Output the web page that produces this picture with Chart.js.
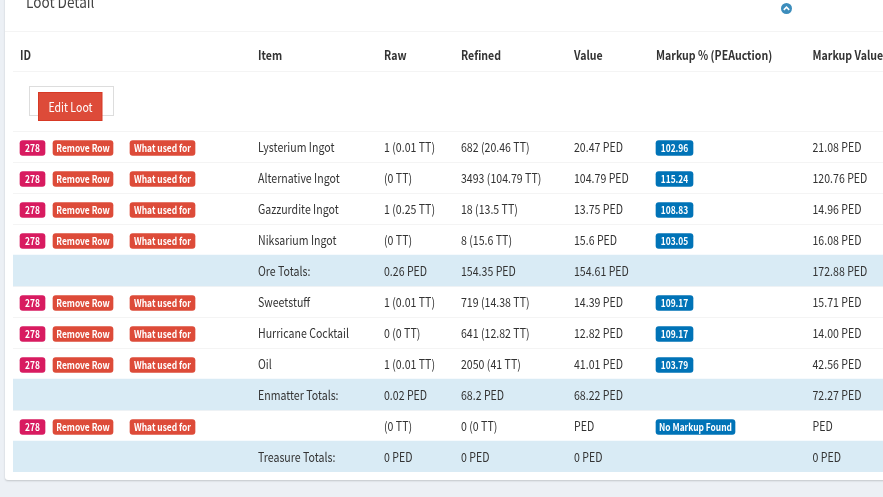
<!DOCTYPE html>
<html>
<head>
<meta charset="utf-8">
<title>Loot Detail</title>
<script src="https://cdn.jsdelivr.net/npm/chart.js@4"></script>
<style>
  html, body { margin: 0; padding: 0; background: #ecf0f5; overflow: hidden; }
  #wrap { width: 883px; height: 497px; position: relative; }
</style>
</head>
<body>
<div id="wrap"><canvas id="lootChart"></canvas></div>
<script>
// table contents, one list per column
const rowKeys = ['head', 'gap', 'edit', 'r1', 'r2', 'r3', 'r4', 'oreTotal', 'r5', 'r6', 'r7', 'enmatterTotal', 'r8', 'treasureTotal'];
const headers = ['ID', 'Item', 'Raw', 'Refined', 'Value', 'Markup % (PEAuction)', 'Markup Value'];
const ids = [null, null, null, '278', '278', '278', '278', null, '278', '278', '278', null, '278', null];
const items = ['', '', '', 'Lysterium Ingot', 'Alternative Ingot', 'Gazzurdite Ingot', 'Niksarium Ingot', 'Ore Totals:', 'Sweetstuff', 'Hurricane Cocktail', 'Oil', 'Enmatter Totals:', '', 'Treasure Totals:'];
const raw = ['', '', '', '1 (0.01 TT)', '(0 TT)', '1 (0.25 TT)', '(0 TT)', '0.26 PED', '1 (0.01 TT)', '0 (0 TT)', '1 (0.01 TT)', '0.02 PED', '(0 TT)', '0 PED'];
const refined = ['', '', '', '682 (20.46 TT)', '3493 (104.79 TT)', '18 (13.5 TT)', '8 (15.6 TT)', '154.35 PED', '719 (14.38 TT)', '641 (12.82 TT)', '2050 (41 TT)', '68.2 PED', '0 (0 TT)', '0 PED'];
const values = ['', '', '', '20.47 PED', '104.79 PED', '13.75 PED', '15.6 PED', '154.61 PED', '14.39 PED', '12.82 PED', '41.01 PED', '68.22 PED', 'PED', '0 PED'];
const markupPct = [null, null, null, '102.96', '115.24', '108.83', '103.05', null, '109.17', '109.17', '103.79', null, 'No Markup Found', null];
const markupValue = ['', '', '', '21.08 PED', '120.76 PED', '14.96 PED', '16.08 PED', '172.88 PED', '15.71 PED', '14.00 PED', '42.56 PED', '72.27 PED', 'PED', '0 PED'];

const FONT = '"Noto Sans CJK SC", "Noto Sans", sans-serif';
const SQUEEZE = 0.84; // the installed font runs wider than the one in the screenshot
const colX = { id: 20, remove: 53, used: 130, item: 258, raw: 384, refined: 461, value: 574, pct: 656, mv: 812.5 };
const badgeW = { id: 25, remove: 60, used: 65, pct: 37, pctLong: 79 };
const badgeDrop = 1.5; // badges sit slightly under the row centre
const xMin = 13, xMax = 883;

const isTotal = key => key.endsWith('Total');

// each badge column is a floating bar, only on rows that have it
function spanFor(list, left, width) {
  return list.map(v => v === null ? null : [left, left + (typeof width === 'function' ? width(v) : width)]);
}

function badgeSet(data, color) {
  return {
    data, backgroundColor: color, grouped: false, barThickness: 15,
    borderRadius: 3, borderSkipped: false, borderWidth: 0
  };
}

function text(ctx, str, x, y, font, color, align) {
  ctx.save();
  ctx.translate(x, y);
  ctx.scale(SQUEEZE, 1);
  ctx.font = font;
  ctx.fillStyle = color;
  ctx.textAlign = align || 'left';
  ctx.textBaseline = 'middle';
  ctx.fillText(str, 0, 0);
  ctx.restore();
}

// card behind the table
const cardPlugin = {
  id: 'card',
  beforeDraw(chart) {
    const ctx = chart.ctx;
    ctx.save();
    ctx.fillStyle = '#ecf0f5';
    ctx.fillRect(0, 0, 883, 497);
    ctx.shadowColor = 'rgba(0,0,0,0.18)';
    ctx.shadowBlur = 2;
    ctx.shadowOffsetY = 1;
    ctx.fillStyle = '#fff';
    ctx.beginPath();
    ctx.roundRect(5, -10, 900, 490, 3);
    ctx.fill();
    ctx.restore();

    ctx.save();
    ctx.fillStyle = '#f4f4f4';
    ctx.fillRect(5, 31, 878, 1);
    ctx.fillRect(xMin, 71, xMax - xMin, 1); // under the header row
    text(ctx, 'Loot Detail', 26, 2, '16.2px ' + FONT, '#444');
    // collapse icon
    ctx.fillStyle = '#3c8dbc';
    ctx.beginPath();
    ctx.arc(786.5, 8.5, 5.5, 0, Math.PI * 2);
    ctx.fill();
    ctx.strokeStyle = '#fff';
    ctx.lineWidth = 1.6;
    ctx.beginPath();
    ctx.moveTo(783.8, 9.8);
    ctx.lineTo(786.5, 7.2);
    ctx.lineTo(789.2, 9.8);
    ctx.stroke();
    ctx.restore();
  }
};

// nudge the badge bars down, the row bands stay put
const dropPlugin = {
  id: 'drop',
  beforeDatasetDraw(chart, args) {
    chart.ctx.save();
    if (args.index > 0) chart.ctx.translate(0, badgeDrop);
  },
  afterDatasetDraw(chart) {
    chart.ctx.restore();
  }
};

// cell text and the edit button
const cellPlugin = {
  id: 'cells',
  afterDatasetsDraw(chart) {
    const ctx = chart.ctx;
    const xs = chart.scales.x, ys = chart.scales.y;
    const px = v => xs.getPixelForValue(v);
    const py = i => ys.getPixelForValue(i);
    ctx.save();

    const headFont = 'bold 12.6px ' + FONT;
    const headCols = [colX.id, colX.item, colX.raw, colX.refined, colX.value, colX.pct, colX.mv];
    headers.forEach((h, c) => text(ctx, h, px(headCols[c]), py(0) + 1.5, headFont, '#333'));

    // edit button sits a bit above its row centre
    const editY = py(2) - 9;
    ctx.strokeStyle = '#ddd';
    ctx.lineWidth = 1;
    ctx.strokeRect(29.5, editY - 20, 84, 29);
    ctx.fillStyle = '#dd4b39';
    ctx.fillRect(38.5, editY - 14, 63.5, 28);
    ctx.strokeStyle = '#d73925';
    ctx.strokeRect(38.5, editY - 14, 63.5, 28);
    text(ctx, 'Edit Loot', 70.5, editY + 1, '12.6px ' + FONT, '#fff', 'center');

    const bodyFont = '12.6px ' + FONT, badgeFont = 'bold 10px ' + FONT;
    rowKeys.forEach((key, i) => {
      if (i < 3) return;
      const y = py(i) + 0.5;
      text(ctx, items[i], px(colX.item), y, bodyFont, '#333');
      text(ctx, raw[i], px(colX.raw), y, bodyFont, '#333');
      text(ctx, refined[i], px(colX.refined), y, bodyFont, '#333');
      text(ctx, values[i], px(colX.value), y, bodyFont, '#333');
      text(ctx, markupValue[i], px(colX.mv), y, bodyFont, '#333');
      const by = y + badgeDrop - 0.5;
      if (ids[i] !== null) {
        text(ctx, ids[i], px(colX.id + badgeW.id / 2), by, badgeFont, '#fff', 'center');
        text(ctx, 'Remove Row', px(colX.remove + badgeW.remove / 2), by, badgeFont, '#fff', 'center');
        text(ctx, 'What used for', px(colX.used + badgeW.used / 2), by, badgeFont, '#fff', 'center');
      }
      if (markupPct[i] !== null) {
        const w = markupPct[i].length > 6 ? badgeW.pctLong : badgeW.pct;
        text(ctx, markupPct[i], px(colX.pct + w / 2), by, badgeFont, '#fff', 'center');
      }
    });
    ctx.restore();
  }
};

new Chart(document.getElementById('lootChart'), {
  type: 'bar',
  data: {
    labels: rowKeys,
    datasets: [
      {
        data: rowKeys.map(k => isTotal(k) ? [xMin, xMax] : null),
        backgroundColor: '#d9ebf5', grouped: false,
        barPercentage: 1, categoryPercentage: 1, borderSkipped: false, borderWidth: 0
      },
      badgeSet(spanFor(ids, colX.id, badgeW.id), '#d81b60'),
      badgeSet(spanFor(ids, colX.remove, badgeW.remove), '#dd4b39'),
      badgeSet(spanFor(ids, colX.used, badgeW.used), '#dd4b39'),
      badgeSet(spanFor(markupPct, colX.pct, v => v.length > 6 ? badgeW.pctLong : badgeW.pct), '#0073b7')
    ]
  },
  options: {
    indexAxis: 'y',
    responsive: true,
    maintainAspectRatio: false,
    animation: false,
    layout: { padding: { left: xMin, right: 0, top: 38, bottom: 25 } },
    plugins: { legend: { display: false }, tooltip: { enabled: false } },
    scales: {
      x: { type: 'linear', min: xMin, max: xMax, display: false },
      y: {
        type: 'category',
        offset: true,
        border: { display: false },
        ticks: { display: false, autoSkip: false },
        grid: {
          drawTicks: false,
          offset: true,
          color: ctx => ctx.index >= 3 ? '#f4f4f4' : 'rgba(0,0,0,0)'
        }
      }
    }
  },
  plugins: [cardPlugin, dropPlugin, cellPlugin]
});
</script>
</body>
</html>
